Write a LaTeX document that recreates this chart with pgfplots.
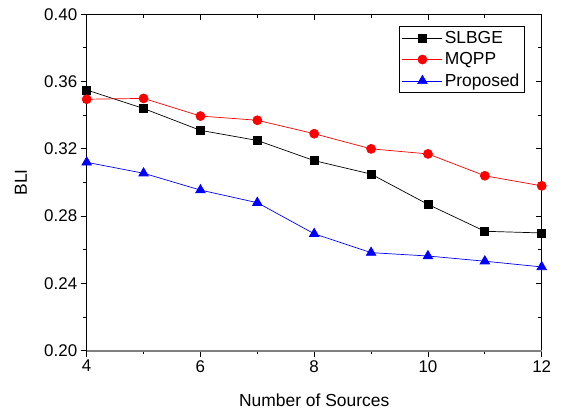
\documentclass[border=0pt]{standalone}
\usepackage{fontspec}
\setmainfont{Liberation Sans}
\usepackage{pgfplots}
\pgfplotsset{compat=1.18}

\begin{document}
\begin{tikzpicture}
% page = 562 x 412, axis box at (0,0)--(455,336.4)
\useasboundingbox (-86.7bp,-61.3bp) rectangle (475.3bp,350.7bp);
\pgfplotsset{
  base/.style={
    at={(0,0)}, anchor=south west,
    scale only axis,
    width=455bp, height=336.4bp,
    xmin=4, xmax=12, ymin=0.20, ymax=0.40,
    xtick={4,6,8,10,12},
    ytick={0.20,0.24,0.28,0.32,0.36,0.40},
    minor x tick num=1, minor y tick num=1,
    major tick length=6bp, minor tick length=3.5bp,
    tick style={black, line width=0.9bp},
    axis line style={line width=0.9bp},
  }
}
% outward ticks, bottom and left
\begin{axis}[base, xtick pos=left, ytick pos=left, tick align=outside,
  xticklabels={}, yticklabels={}]
\end{axis}
% inward ticks, top and right
\begin{axis}[base, xtick pos=right, ytick pos=right, tick align=inside,
  xticklabels={}, yticklabels={}, axis line style={draw=none}]
\end{axis}
% labels and data
\begin{axis}[
  base,
  tick style={draw=none},
  tick align=inside,
  font=\fontsize{17}{20}\selectfont,
  /pgf/number format/assume math mode=true,
  xticklabel style={yshift=-6bp},
  yticklabel style={xshift=-6bp, /pgf/number format/.cd, fixed, fixed zerofill, precision=2},
  xlabel={Number of Sources},
  ylabel={BLI},
  xlabel style={at={(axis description cs:0.5,-0.1466)}, anchor=center, font=\fontsize{17.5}{20}\selectfont},
  ylabel style={at={(axis description cs:-0.1444,0.5)}, anchor=center, font=\fontsize{17.5}{20}\selectfont},
  legend style={at={(0.963,0.965)}, anchor=north east, draw=black, line width=0.9bp,
    font=\fontsize{17.5}{20}\selectfont, row sep=3.5bp, inner sep=3bp},
  legend cell align=left,
  legend image code/.code={\draw[mark repeat=2,mark phase=2] plot coordinates {(0bp,0bp) (20bp,0bp) (40bp,0bp)};},
  every axis plot/.append style={line width=0.7bp},
  clip=false,
]
\addplot[black, mark=square*, mark size=4bp, mark options={solid, fill=black}] coordinates {
  (4,0.355) (5,0.344) (6,0.331) (7,0.325) (8,0.313) (9,0.305) (10,0.287) (11,0.271) (12,0.270)};
\addlegendentry{SLBGE}
\addplot[red, mark=*, mark size=4.5bp, mark options={solid, fill=red}] coordinates {
  (4,0.3495) (5,0.350) (6,0.3395) (7,0.337) (8,0.329) (9,0.320) (10,0.317) (11,0.304) (12,0.298)};
\addlegendentry{MQPP}
\addplot[blue, mark=triangle*, mark size=5.5bp, mark options={solid, fill=blue}] coordinates {
  (4,0.312) (5,0.3055) (6,0.2955) (7,0.288) (8,0.2695) (9,0.2583) (10,0.2563) (11,0.2532) (12,0.2498)};
\addlegendentry{Proposed}
\draw[gray, line width=1.6bp] (rel axis cs:0,0) -- (rel axis cs:1,0);
\end{axis}
\end{tikzpicture}
\end{document}
